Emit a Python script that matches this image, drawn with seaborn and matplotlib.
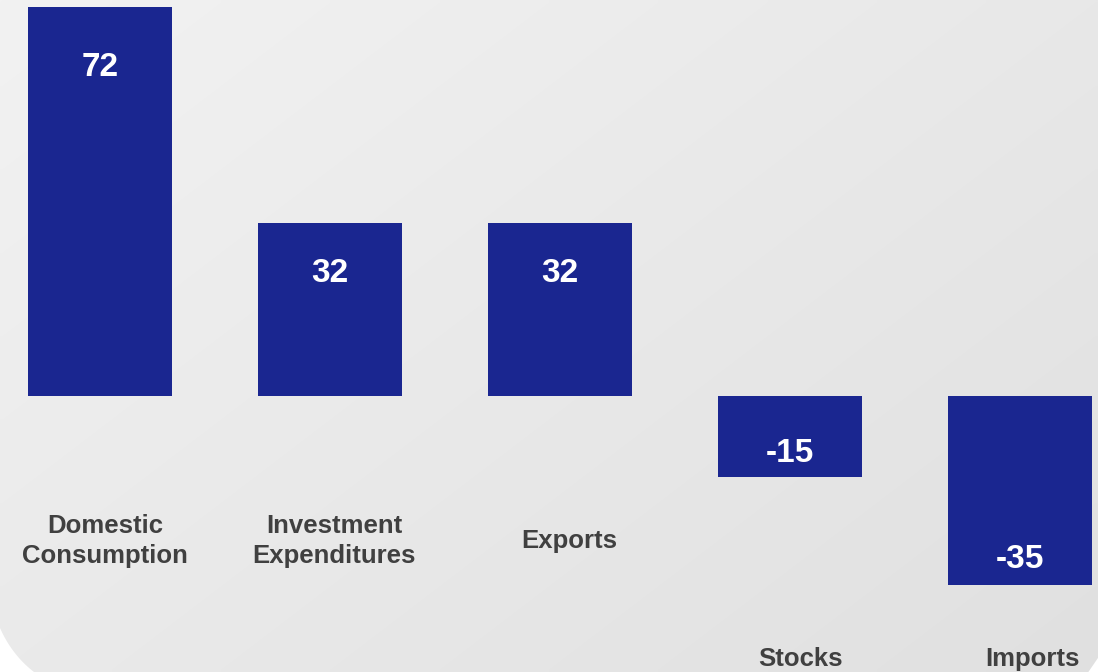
import numpy as np
import pandas as pd
import matplotlib
matplotlib.use("Agg")
import matplotlib.pyplot as plt
from matplotlib.patches import Polygon
import seaborn as sns

# Contributions by component
categories = ["Domestic\nConsumption", "Investment\nExpenditures", "Exports", "Stocks", "Imports"]
values = [72, 32, 32, -15, -35]

df = pd.DataFrame({"component": categories, "value": values})

sns.set_theme(style="white")
plt.rcParams["font.family"] = ["Liberation Sans", "DejaVu Sans"]

W, H = 1098, 672
fig = plt.figure(figsize=(W / 100, H / 100), dpi=100, facecolor="white")

# Soft grey diagonal gradient panel
bg = fig.add_axes([0, 0, 1, 1], zorder=0)
bg.set_xlim(0, W)
bg.set_ylim(H, 0)
bg.axis("off")
xx, yy = np.meshgrid(np.linspace(0, 1, 220), np.linspace(0, 1, 140))
shade = (242 - 10 * xx - 8 * yy) / 255.0
img = np.dstack([shade, shade, shade])
bg.imshow(img, extent=(0, W, H, 0), aspect="auto", interpolation="bilinear")

# White cut-outs at the lower corners of the panel
t = np.linspace(0, 1, 30)
p0, p1, p2 = np.array([0, 628]), np.array([12, 655]), np.array([34, H])
curve = [(1 - s) ** 2 * p0 + 2 * (1 - s) * s * p1 + s ** 2 * p2 for s in t]
left_corner = [(0, H + 2)] + [tuple(c) for c in curve] + [(34, H + 2)]
bg.add_patch(Polygon(left_corner, closed=True, facecolor="white", edgecolor="none", zorder=3))
bg.add_patch(Polygon([(W + 2, 655), (W + 2, H + 2), (1087, H + 2)], closed=True,
                     facecolor="white", edgecolor="none", zorder=3))

ax = fig.add_axes([0, 0, 1, 1], zorder=1)
ax.patch.set_alpha(0)
sns.barplot(data=df, x="component", y="value", color="#1A2690", saturation=1,
            width=0.626, linewidth=0, edgecolor="none", ax=ax)
ax.set_xlim(-100 / 230, (W - 100) / 230)
ax.set_ylim(-(H - 396) / 5.4, 396 / 5.4)
ax.axis("off")

# Value labels inside the bars (pixel offsets from the bar end)
value_offsets = [-60, -50, -50, 24, 26]
for i, (v, off) in enumerate(zip(values, value_offsets)):
    ax.annotate(f"{v}", xy=(i, v), xytext=(0, off), textcoords="offset pixels",
                ha="center", va="center", color="white", fontsize=24,
                fontweight="bold")

# Category labels below the bars
label_dx = [5, 4, 9, 10, 12]
for i, (cat, v, dx) in enumerate(zip(categories, values, label_dx)):
    off = -145 if v > 0 else -263
    ax.annotate(cat, xy=(i, 0), xytext=(dx, off), textcoords="offset pixels",
                ha="center", va="center", color="#404040", fontsize=18.5,
                fontweight="bold", linespacing=1.3)

fig.savefig("out.png", dpi=100, facecolor="white")
